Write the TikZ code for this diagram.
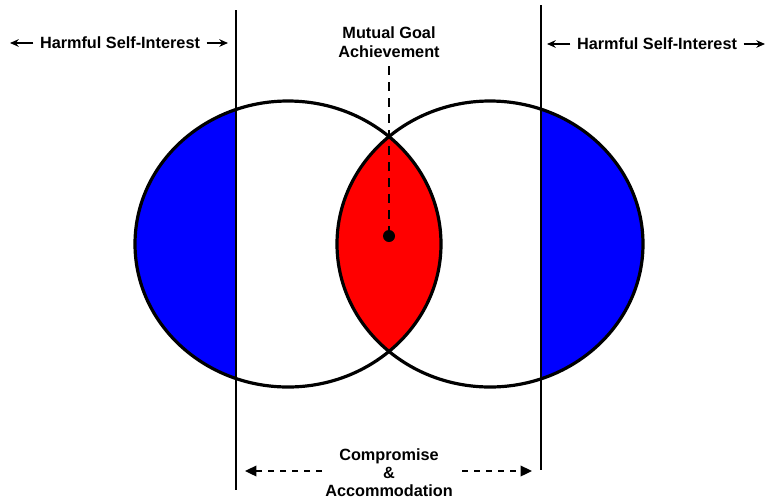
\documentclass[tikz,border=0pt]{standalone}
\usepackage{fontspec}
\setmainfont{Liberation Sans}
\definecolor{harm}{HTML}{0000FF}
\definecolor{goal}{HTML}{FF0000}
\usepackage{tikz}
\usetikzlibrary{arrows.meta}
\tikzset{
  >={Stealth[length=2.3mm,width=2mm]},
  lab/.style={font=\bfseries\fontsize{12.2}{14.2}\selectfont,align=center,inner sep=1pt},
  ring/.style={draw=black,line width=2.4pt},
  bound/.style={draw=black,line width=1pt},
  arr/.style={->,line width=1.1pt},
  darr/.style={-{Triangle[length=3mm,width=2.8mm]},line width=1.1pt,dash pattern=on 4.5pt off 4.5pt},
}

\begin{document}
\begin{tikzpicture}[x=0.75pt,y=0.75pt]
\useasboundingbox (0,0) rectangle (767,-501);
% blue and red regions
\begin{scope}
  \clip (0,0) rectangle (236,-501);
  \fill[harm] (288,-244) ellipse [x radius=153,y radius=143];
\end{scope}
\begin{scope}
  \clip (541,0) rectangle (767,-501);
  \fill[harm] (490,-244) ellipse [x radius=153,y radius=143];
\end{scope}
\begin{scope}
  \clip (288,-244) ellipse [x radius=153,y radius=143];
  \fill[goal] (490,-244) ellipse [x radius=153,y radius=143];
\end{scope}
\draw[ring] (288,-244) ellipse [x radius=153,y radius=143];
\draw[ring] (490,-244) ellipse [x radius=153,y radius=143];
% boundaries
\coordinate (lt) at (236,-10);
\coordinate (lb) at (236,-490);
\coordinate (rt) at (541,-5);
\coordinate (rb) at (541,-470);
\draw[bound] (lt) -- (lb);
\draw[bound] (rt) -- (rb);
% labels
\node[lab] (hl) at (120,-43) {Harmful Self-Interest};
\coordinate (hlA) at (10,-43);
\coordinate (hlB) at (228,-43);
\draw[arr] (hl.west) ++(-5,0) coordinate (hlC) -- (hlA);
\draw[arr] (hl.east) ++(5,0) coordinate (hlD) -- (hlB);
\node[lab] (hr) at (657,-44) {Harmful Self-Interest};
\coordinate (hrA) at (547,-44);
\coordinate (hrB) at (765,-44);
\draw[arr] (hr.west) ++(-5,0) coordinate (hrC) -- (hrA);
\draw[arr] (hr.east) ++(5,0) coordinate (hrD) -- (hrB);
\node[lab] (mg) at (389,-42) {Mutual Goal\\Achievement};
\fill (389,-236) circle (6) coordinate (dot);
\draw[line width=1.9pt,dash pattern=on 7pt off 5pt] (389,-66) coordinate (mgT) -- (dot);
\node[lab,font=\bfseries\fontsize{12.2}{13.6}\selectfont] (ca) at (389,-473) {Compromise\\\&\\Accommodation};
\coordinate (caA) at (245,-471);
\coordinate (caB) at (532,-471);
\draw[darr] (322,-471) coordinate (caC) -- (caA);
\draw[darr] (462,-471) coordinate (caD) -- (caB);
\end{tikzpicture}
\end{document}
